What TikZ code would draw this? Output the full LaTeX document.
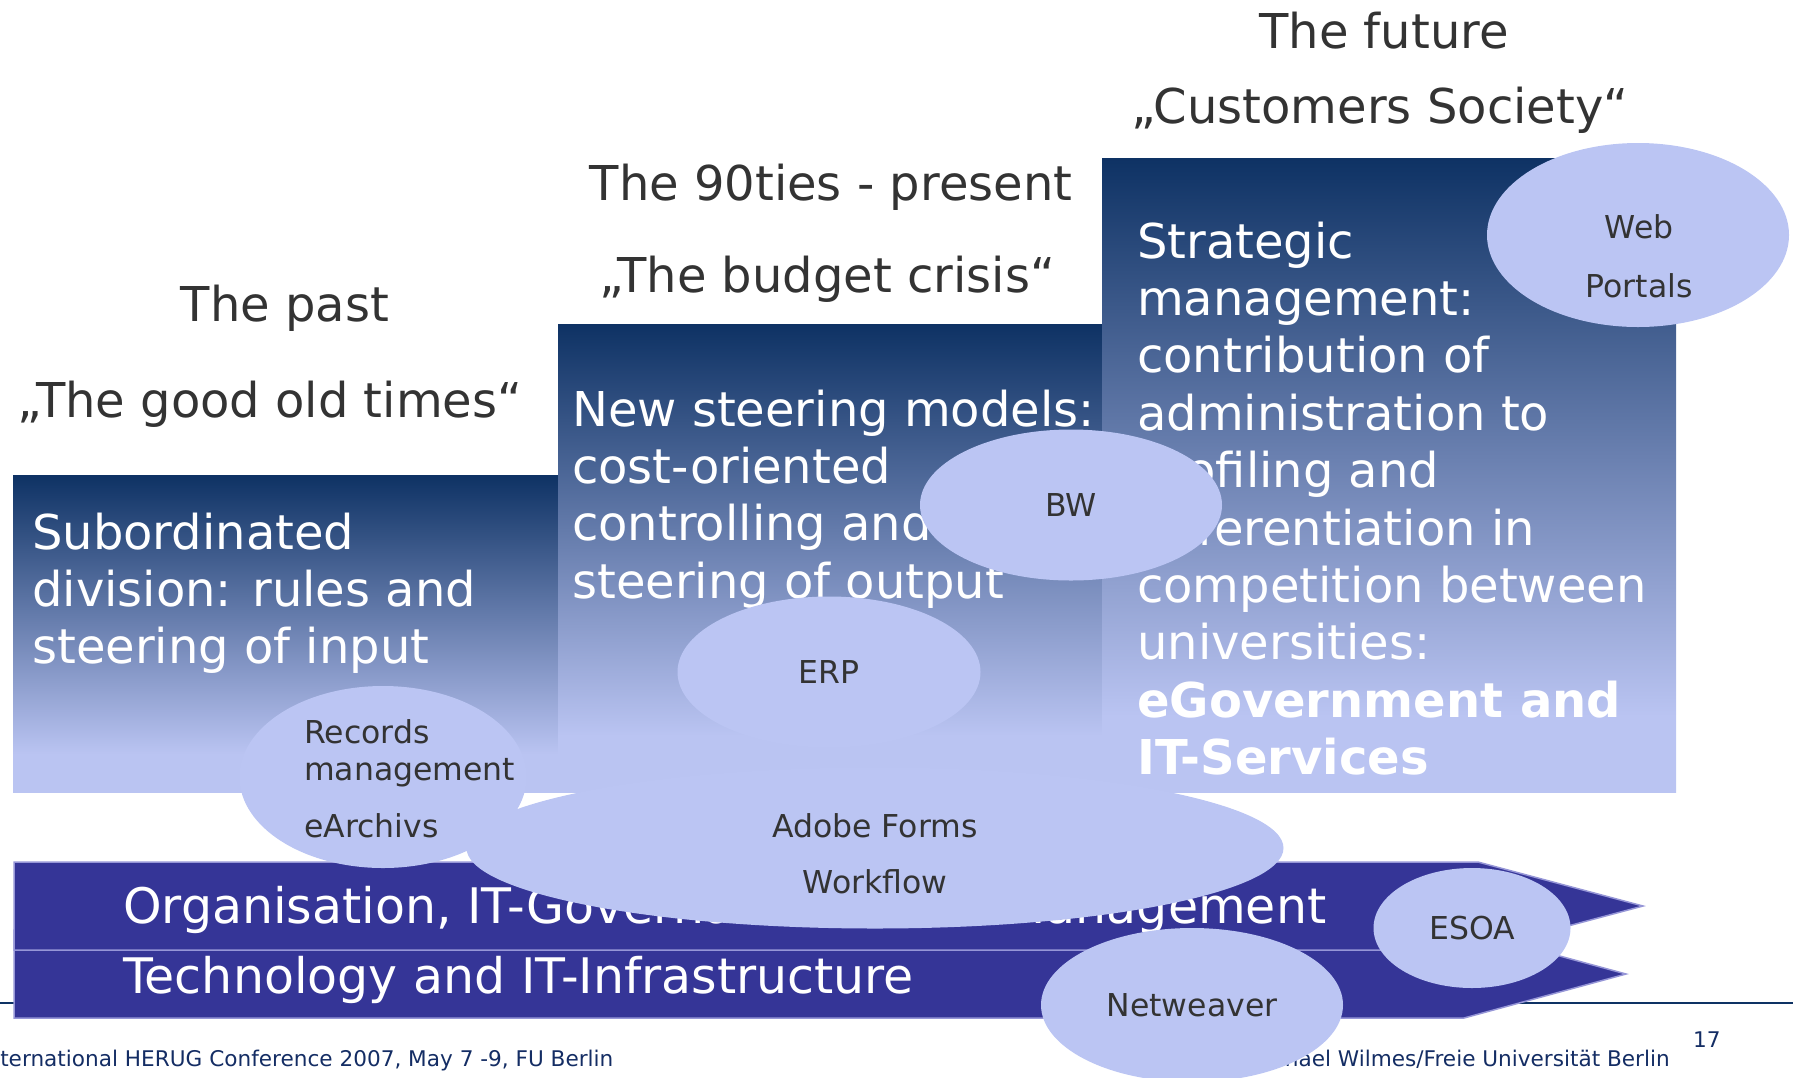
\documentclass[tikz,border=0pt]{standalone}
\usepackage{fontspec}
\setmainfont{DejaVu Sans}
\usetikzlibrary{shapes.geometric}

\definecolor{boxdark}{RGB}{14,50,100}
\definecolor{boxlight}{RGB}{186,196,242}
\definecolor{bubblefill}{RGB}{187,197,243}
\definecolor{band}{RGB}{53,53,151}
\definecolor{bandedge}{RGB}{150,150,215}
\definecolor{ink}{RGB}{51,51,51}
\definecolor{footer}{RGB}{20,45,100}
\definecolor{rulecol}{RGB}{14,50,100}

% vertical fade: light at the bottom, dark navy at the top
\pgfdeclareverticalshading{boxfade}{100bp}{color(0bp)=(boxlight); color(25bp)=(boxlight); color(31bp)=(boxlight); color(75bp)=(boxdark); color(100bp)=(boxdark)}

\newcommand{\leftlines}[1]{\begin{tabular}[t]{@{}l@{}}#1\end{tabular}}

\begin{document}
\begin{tikzpicture}[x=1pt,y=-1pt,
  title/.style={anchor=base, inner sep=0pt, text=ink, font=\fontsize{48}{57.4}\selectfont},
  era/.style={rectangle, shading=boxfade, draw=none, inner sep=0pt, anchor=north west},
  boxtext/.style={anchor=base west, inner sep=0pt, text=white, font=\fontsize{48}{57.4}\selectfont},
  bandshape/.style={fill=band, draw=bandedge, line width=1.5pt},
  bandtext/.style={anchor=base west, inner sep=0pt, text=white, font=\fontsize{49}{59}\selectfont},
  foot/.style={inner sep=0pt, text=footer, font=\fontsize{21.6}{25}\selectfont},
  blob/.style={ellipse, fill=bubblefill, draw=none, inner sep=0pt, text=ink, font=\fontsize{31.5}{37.5}\selectfont},
  blobtext/.style={inner sep=0pt, text=ink, font=\fontsize{31.5}{37.5}\selectfont}]

\useasboundingbox (0,0) rectangle (1793,1077);

% footer rule
\coordinate (ruleL) at (0,1003);
\coordinate (ruleR) at (1793,1003);
\draw[rulecol, line width=2.5pt] (ruleL) -- (ruleR);

% era headings
\node[title] (pastA) at (285,321) {The past};
\node[title] (pastB) at (270,417) {„The good old times“};
\node[title] (nowA) at (831,200) {The 90ties - present};
\node[title] (nowB) at (827,292) {„The budget crisis“};
\node[title] (nextA) at (1384,48) {The future};
\node[title] (nextB) at (1380,123) {„Customers Society“};

% the three era boxes
\node[era, minimum width=545pt, minimum height=317pt] (past) at (13,475) {};
\node[era, minimum width=544pt, minimum height=468pt] (now) at (558,324) {};
\node[era, minimum width=574pt, minimum height=634pt] (next) at (1102,158) {};

\node[boxtext] (pastT) at (32,549) {\leftlines{Subordinated\\division: rules and\\steering of input}};
\node[boxtext] (nowT) at (572,426) {\leftlines{New steering models:\\cost-oriented\\controlling and\\steering of output}};
\node[boxtext] (nextT) at (1137,258) {\leftlines{Strategic\\management:\\contribution of\\administration to\\profiling and\\differentiation in\\competition between\\universities:\\\textbf{eGovernment and}\\\textbf{IT-Services}}};

% the two foundation arrows
\draw[bandshape] (14,930) -- (1464,930) -- (1626,974) -- (1464,1018) -- (14,1018) -- cycle;
\draw[bandshape] (14,862) -- (1478,862) -- (1643,906) -- (1478,950) -- (14,950) -- cycle;
\node[bandtext] (orgT) at (123,923) {Organisation, IT-Governance and IT-Management};
\node[bandtext] (techT) at (123,993) {Technology and IT-Infrastructure};

% footer
\node[foot, anchor=base west] (conf) at (-20,1066) {International HERUG Conference 2007, May 7 -9, FU Berlin};
\node[foot, anchor=base east] (author) at (1670,1066) {Michael Wilmes/Freie Universität Berlin};
\node[foot, anchor=base west] (page) at (1693,1047) {17};

% application bubbles
\node[blob, minimum width=302pt, minimum height=184pt] (web) at (1638,235) {};
\node[blobtext, anchor=base] (webA) at (1639,238) {Web};
\node[blobtext, anchor=base] (webB) at (1639,297) {Portals};

\node[blob, minimum width=302pt, minimum height=151pt] (bw) at (1071,505) {BW};
\node[blob, minimum width=303pt, minimum height=151pt] (erp) at (829,672) {ERP};

\node[blob, minimum width=287pt, minimum height=182pt] (rec) at (383,777) {};
\node[blob, minimum width=817pt, minimum height=161pt] (adobe) at (875,848) {};
\node[blobtext, anchor=base west] (recA) at (304,743) {\leftlines{Records\\management}};
\node[blobtext, anchor=base west] (recB) at (304,837) {eArchivs};
\node[blobtext, anchor=base] (adobeA) at (875,837) {Adobe Forms};
\node[blobtext, anchor=base] (adobeB) at (875,893) {Workflow};

\node[blob, minimum width=197pt, minimum height=120pt] (esoa) at (1472,928) {ESOA};
\node[blob, minimum width=302pt, minimum height=154pt] (net) at (1192,1005) {Netweaver};

\end{tikzpicture}
\end{document}
